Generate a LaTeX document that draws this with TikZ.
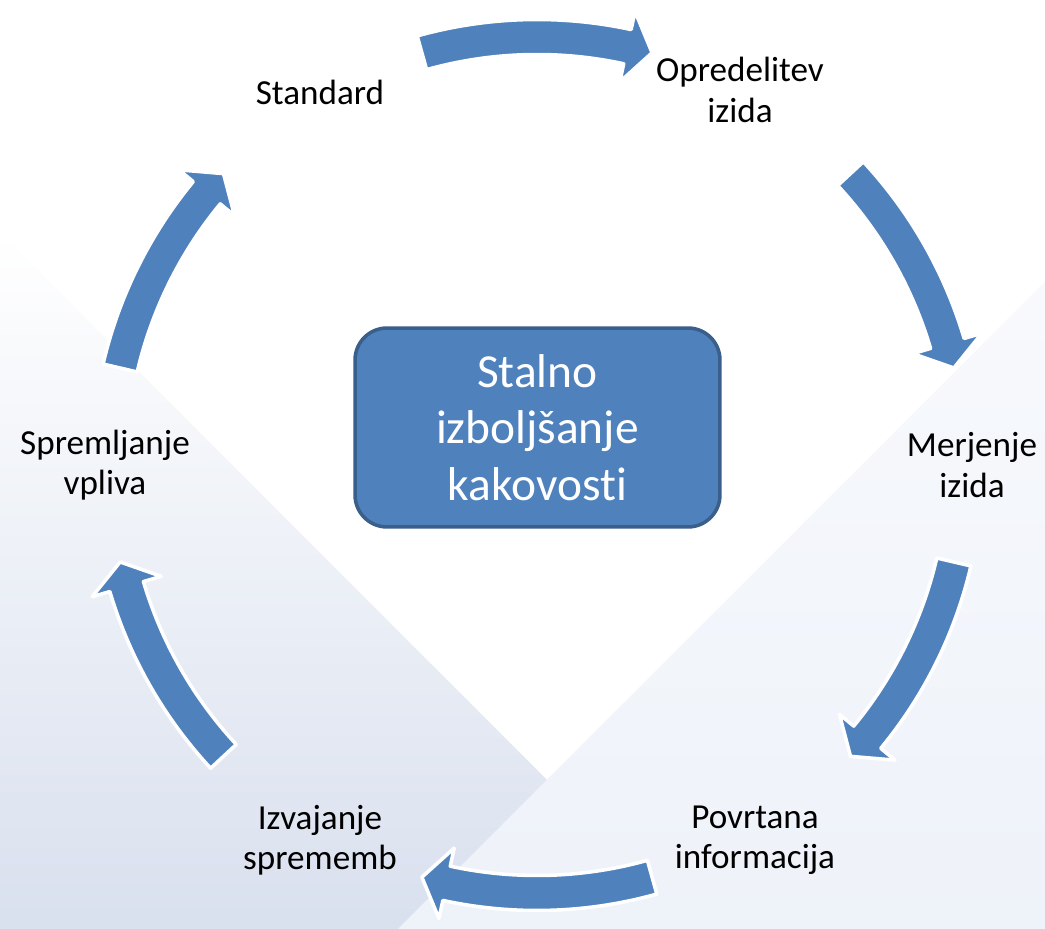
\documentclass[tikz,border=0pt]{standalone}
\usepackage{fontspec}
\setmainfont{Carlito}[Ligatures=NoCommon]
\usepackage{tikz}
\definecolor{arrowblue}{HTML}{4F81BD}
\definecolor{boxedge}{HTML}{3A5F8B}
\definecolor{shadeleft}{HTML}{D9E0EE}
\definecolor{shaderight}{HTML}{EEF2F9}
\tikzset{
    cycarrow/.style={fill=arrowblue, draw=white, line width=2pt, line join=round},
    phase/.style={font=\fontsize{20}{23}\selectfont, align=center, text=black},
    corebox/.style={draw=boxedge, fill=arrowblue, line width=2pt, rounded corners=0.64cm,
        minimum width=7.3cm, minimum height=3.98cm, text=white, align=center,
        font=\fontsize{27}{32}\selectfont}
}
\def\CycArrow from (#1) to (#2); {
    \filldraw[cycarrow] (#1:445.5) arc[start angle=#1, end angle=#2+3.4, radius=445.5]
        -- (#2+3.4:464) -- (#2:428) -- (#2+3.4:392) -- (#2+3.4:410.5)
        arc[start angle=#2+3.4, end angle=#1, radius=410.5] -- cycle;
}

\begin{document}
\begin{tikzpicture}[x=0.02cm, y=0.02cm]
    \useasboundingbox (-537,-464) rectangle (508,465);
    % background
    \fill[white] (-537,-464) rectangle (508,465);
    \shade[top color=white, bottom color=shadeleft] (-537,232) -- (159,-464) -- (-537,-464) -- cycle;
    \shade[top color=white!55!shaderight, bottom color=shaderight] (508,183) -- (-139,-464) -- (508,-464) -- cycle;

    % cycle arrows
    \CycArrow from (105.6) to (74.4);
    \CycArrow from (42.9) to (13.1);
    \CycArrow from (-13.1) to (-42.9);
    \CycArrow from (-74.4) to (-105.6);
    \CycArrow from (-137.1) to (-166.9);
    \CycArrow from (166.9) to (137.1);

    \node[corebox] (core) at (0.5,37.5) {Stalno\\izboljšanje\\kakovosti};

    \node[phase] (std) at (-217,373) {Standard};
    \node[phase] (opr) at (203,375) {Opredelitev\\izida};
    \node[phase] (mer) at (435,0) {Merjenje\\izida};
    \node[phase] (pov) at (218,-375) {Povrtana\\informacija};
    \node[phase] (izv) at (-217,-375) {Izvajanje\\sprememb};
    \node[phase] (spr) at (-432,0) {Spremljanje\\vpliva};
\end{tikzpicture}
\end{document}
